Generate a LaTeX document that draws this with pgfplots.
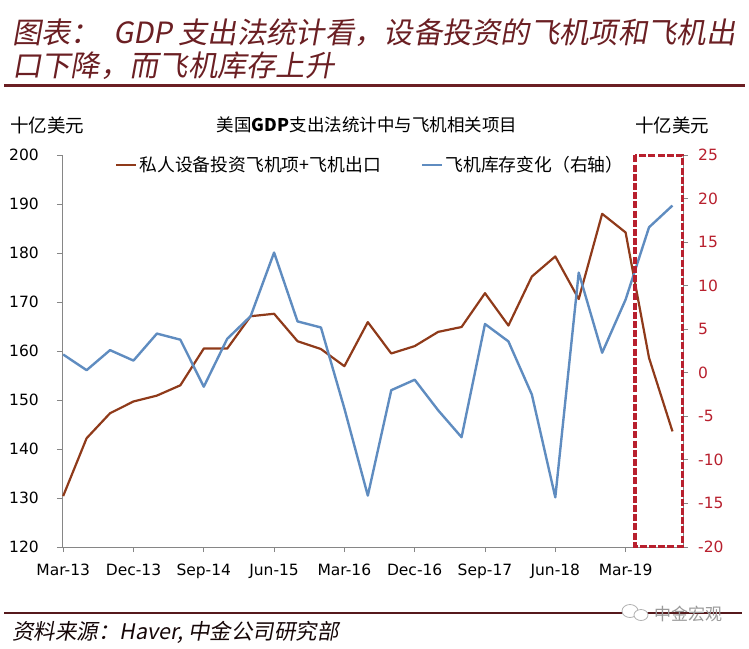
\documentclass[border=0pt]{standalone}
\usepackage{fontspec}
\usepackage{pgfplots}
\pgfplotsset{compat=1.18}
\setmainfont{DejaVu Sans}
\newfontfamily\cjk{Noto Sans CJK SC}
\newfontfamily\cjkit{Noto Sans CJK SC}[FakeSlant=0.18]
\definecolor{brownline}{HTML}{8F3A1A}
\definecolor{blueline}{HTML}{5F8CC0}
\definecolor{maroon}{HTML}{6B1F23}
\definecolor{rectred}{HTML}{B8202E}
\definecolor{axisgray}{HTML}{868686}
\begin{document}
\begin{tikzpicture}
\path[use as bounding box] (0,0) rectangle (749pt,-648pt);
% header
\node[anchor=west, inner sep=0pt, text=maroon] at (12pt,-33pt) {\cjkit\fontsize{29.3}{32}\selectfont 图表：\ \ GDP 支出法统计看，设备投资的飞机项和飞机出};
\node[anchor=west, inner sep=0pt, text=maroon] at (12pt,-66pt) {\cjkit\fontsize{29.3}{32}\selectfont 口下降，而飞机库存上升};
\draw[maroon, line width=3.5pt] (4pt,-85.5pt) -- (745pt,-85.5pt);
\node[anchor=west, inner sep=0pt] at (10pt,-125pt) {\cjk\fontsize{18.5}{20}\selectfont 十亿美元};
\node[anchor=west, inner sep=0pt] at (635pt,-125pt) {\cjk\fontsize{18.5}{20}\selectfont 十亿美元};
\node[inner sep=0pt] at (367pt,-125pt) {\cjk\fontsize{17.5}{20}\selectfont 美国\textbf{GDP}支出法统计中与飞机相关项目};
% footer
\draw[maroon!80!black, line width=2pt] (4pt,-613pt) -- (742pt,-613pt);
\node[anchor=west, inner sep=0pt, text=black!80!maroon] at (12pt,-632pt) {\cjkit\fontsize{21.5}{24}\selectfont 资料来源：Haver,\ 中金公司研究部};
\draw[gray!60, line width=0.8pt, fill=white] (630pt,-611pt) ellipse (8pt and 6.5pt);
\draw[gray!60, line width=0.8pt, fill=white] (641pt,-615pt) ellipse (7pt and 5.5pt);
\node[anchor=west, inner sep=0pt, text=gray!80] at (654pt,-614pt) {\cjk\fontsize{17}{20}\selectfont 中金宏观};

\begin{axis}[
  at={(62pt,-547pt)}, anchor=south west,
  scale only axis, width=621pt, height=392pt,
  xmin=-0.05, xmax=26.45, ymin=120, ymax=200,
  axis y line*=left, axis x line*=bottom,
  axis line style={axisgray, line width=0.9pt},
  xtick={0,3,...,24},
  xticklabels={Mar-13,Dec-13,Sep-14,Jun-15,Mar-16,Dec-16,Sep-17,Jun-18,Mar-19},
  ytick={120,130,...,200},
  yticklabels={120,130,140,150,160,170,180,190,200},
  tick align=outside, major tick length=5pt,
  tick style={axisgray, line width=0.9pt},
  /pgf/number format/assume math mode=true,
  ticklabel style={font=\fontsize{15.5}{18}\selectfont, inner sep=0pt},
  xticklabel style={anchor=north, yshift=-12pt},
  yticklabel style={anchor=east, xshift=-18pt},
  every outer x axis line/.append style={-}, every outer y axis line/.append style={-},
]
\addplot[brownline, line width=2.2pt, line join=round] coordinates {
(0,130.4)(1,142.2)(2,147.3)(3,149.7)(4,150.9)(5,153.0)(6,160.5)(7,160.5)
(8,167.1)(9,167.6)(10,162.0)(11,160.4)(12,156.9)(13,165.9)(14,159.5)(15,161.0)
(16,163.9)(17,164.9)(18,171.8)(19,165.2)(20,175.2)(21,179.3)(22,170.6)(23,188.0)
(24,184.2)(25,158.6)(26,143.6)};
\end{axis}

\begin{axis}[
  at={(62pt,-547pt)}, anchor=south west,
  scale only axis, width=621pt, height=392pt,
  xmin=-0.05, xmax=26.45, ymin=-20, ymax=25,
  axis y line*=right, axis x line=none,
  axis line style={axisgray, line width=0.9pt},
  ytick={-20,-15,...,25},
  yticklabels={-20,-15,-10,-5,0,5,10,15,20,25},
  tick align=outside, major tick length=5pt,
  tick style={axisgray, line width=0.9pt},
  /pgf/number format/assume math mode=true,
  ticklabel style={font=\fontsize{15.5}{18}\selectfont, inner sep=0pt},
  yticklabel style={anchor=west, xshift=10pt, text=rectred},
  clip=false,
  legend style={at={(0.085,0.975)}, anchor=west, draw=none, fill=none,
    font=\cjk\fontsize{17.8}{20}\selectfont, legend columns=2,
    /tikz/every even column/.append style={column sep=38pt},
    legend cell align=left, inner sep=0pt},
  legend image code/.code={\draw[#1, line width=2.6pt] (0pt,0pt) -- (20pt,0pt);},
]
\addlegendimage{brownline}
\addlegendentry{私人设备投资飞机项+飞机出口}
\addplot[blueline, line width=2.4pt, line join=round] coordinates {
(0,2.1)(1,0.3)(2,2.6)(3,1.4)(4,4.5)(5,3.8)(6,-1.6)(7,3.9)
(8,6.5)(9,13.8)(10,5.9)(11,5.2)(12,-4.1)(13,-14.1)(14,-2.0)(15,-0.8)
(16,-4.3)(17,-7.4)(18,5.6)(19,3.6)(20,-2.5)(21,-14.3)(22,11.5)(23,2.3)
(24,8.4)(25,16.7)(26,19.2)};
\addlegendentry{飞机库存变化（右轴）}
\draw[rectred, line width=3.2pt, dash pattern=on 7pt off 2.2pt]
  (axis cs:24.4,24.95) rectangle (axis cs:26.42,-19.9);
\end{axis}
\end{tikzpicture}
\end{document}
